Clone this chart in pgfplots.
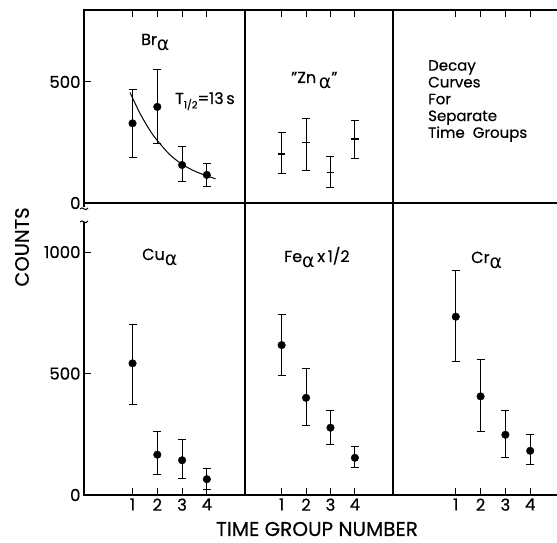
\documentclass[border=0pt]{standalone}
\usepackage{pgfplots}
\pgfplotsset{compat=1.18}
\usepackage{fontspec}
\setmainfont{Poppins}[FakeBold=0.4]
\newfontfamily\grk{DejaVu Sans}
\newcommand{\al}{\raisebox{-0.6ex}{\grk\fontsize{19}{19}\selectfont α}}
\newcommand{\fs}[1]{\fontsize{#1}{#1}\selectfont}

\pgfplotstableread{
x y ep em
1 329 141 140
2 397 154 150
3 157 76 69
4 116 48 49
}\brdata
\pgfplotstableread{
x y ep em
1 202 88 82
2 251 99 115
3 127 66 64
4 264 75 81
}\zndata
\pgfplotstableread{
x y ep em
1 542 160 168
2 166 94 82
3 143 85 73
4 65 43 42
}\cudata
\pgfplotstableread{
x y ep em
1 617 125 126
2 400 120 112
3 277 69 70
4 153 47 41
}\fedata
\pgfplotstableread{
x y ep em
1 734 191 185
2 406 152 143
3 248 102 93
4 182 66 56
}\crdata

\pgfplotsset{
  panel/.style={scale only axis, anchor=south west,
    axis line style={line width=1.1pt},
    tick style={line width=1pt, black},
    tick align=inside, major tick length=7pt,
    ticklabel style={font=\fs{16.5}},
    /pgf/number format/assume math mode=true,
    /pgf/number format/1000 sep={},
    xtick={1,2,3,4}, clip=false},
  toprow/.style={panel, height=193pt, ymin=0, ymax=797, xtick pos=top, xticklabels={}},
  botrow/.style={panel, height=292pt, ymin=0, ymax=1202, xtick pos=bottom,
    xticklabels={1,2,3,4}},
  col1/.style={width=161pt, xmin=-0.96, xmax=5.54},
  col2/.style={width=148pt, xmin=-0.50, xmax=5.56},
  col3/.style={width=164pt, xmin=-1.53, xmax=5.08},
  ebonly/.style={error bars/y dir=both, error bars/y explicit,
    error bars/error bar style={line width=0.9pt, black},
    error bars/error mark options={rotate=90, mark size=4pt, line width=0.9pt, black}},
  eb/.style={only marks, black, mark=*, mark size=3.8pt, ebonly},
}

\begin{document}
\begin{tikzpicture}
\useasboundingbox (0,0) rectangle (557pt,543pt);

% top row
\begin{axis}[toprow, col1, at={(84pt,340pt)}, ytick={0,500}, ytick pos=left]
\addplot[eb] table[x=x, y=y, y error plus=ep, y error minus=em]{\brdata};
\addplot[smooth, black, line width=1pt, mark=none] coordinates {
(0.9,456) (1.3,370) (1.7,300) (2,258) (2.5,200) (3,160) (3.5,132) (4,112) (4.35,100)};
\end{axis}

\begin{axis}[toprow, col2, at={(245pt,340pt)}, ytick=\empty]
\addplot[black, draw=none, mark=-, mark size=3.6pt, mark options={line width=1.2pt, black}, ebonly] table[x=x, y=y, y error plus=ep, y error minus=em]{\zndata};
\end{axis}

\begin{axis}[toprow, col3, at={(393pt,340pt)}, ytick=\empty, axis y line*=left]
\addplot[draw=none, mark=none] coordinates {(0,0)};
\end{axis}

% bottom row
\begin{axis}[botrow, col1, at={(84pt,48pt)}, ytick={0,500,1000}, ytick pos=left]
\addplot[eb] table[x=x, y=y, y error plus=ep, y error minus=em]{\cudata};
\end{axis}

\begin{axis}[botrow, col2, at={(245pt,48pt)}, ytick=\empty]
\addplot[eb] table[x=x, y=y, y error plus=ep, y error minus=em]{\fedata};
\end{axis}

\begin{axis}[botrow, col3, at={(393pt,48pt)}, ytick=\empty, axis y line*=left]
\addplot[eb] table[x=x, y=y, y error plus=ep, y error minus=em]{\crdata};
\end{axis}

% axis break on left axis
\fill[white] (81pt,321pt) rectangle (87pt,336pt);
\draw[line width=1pt] (80pt,334pt) .. controls (83pt,338pt) and (85pt,330pt) .. (88pt,335pt);
\draw[line width=1pt] (80pt,321pt) .. controls (83pt,325pt) and (85pt,317pt) .. (88pt,322pt);

% panel labels
\node[anchor=base west, inner sep=0, font=\fs{16}] at (141pt,498pt) {Br\al};
\node[anchor=base west, inner sep=0, font=\fs{16}] at (175pt,439pt) {T\raisebox{-0.5ex}{\fs{10}1/2}=13\,s};
\node[anchor=base west, inner sep=0, font=\fs{16}] at (291pt,460pt) {\symbol{34}Zn\,\al\symbol{34}};
\node[anchor=north west, inner sep=0, align=left, font=\fontsize{15}{16.8}\selectfont] at (428pt,483pt) {Decay\\Curves\\For\\Separate\\Time\ \ Groups};
\node[anchor=base west, inner sep=0, font=\fs{16}] at (142pt,283pt) {Cu\al};
\node[anchor=base west, inner sep=0, font=\fs{16}] at (284pt,281pt) {Fe\al\,x\,1/2};
\node[anchor=base west, inner sep=0, font=\fs{16}] at (471pt,280pt) {Cr\al};

% axis labels
\node[rotate=90, font=\fs{19.5}] at (22pt,296pt) {COUNTS};
\node[font=\fs{20}] at (317pt,14pt) {TIME GROUP NUMBER};
\end{tikzpicture}
\end{document}
